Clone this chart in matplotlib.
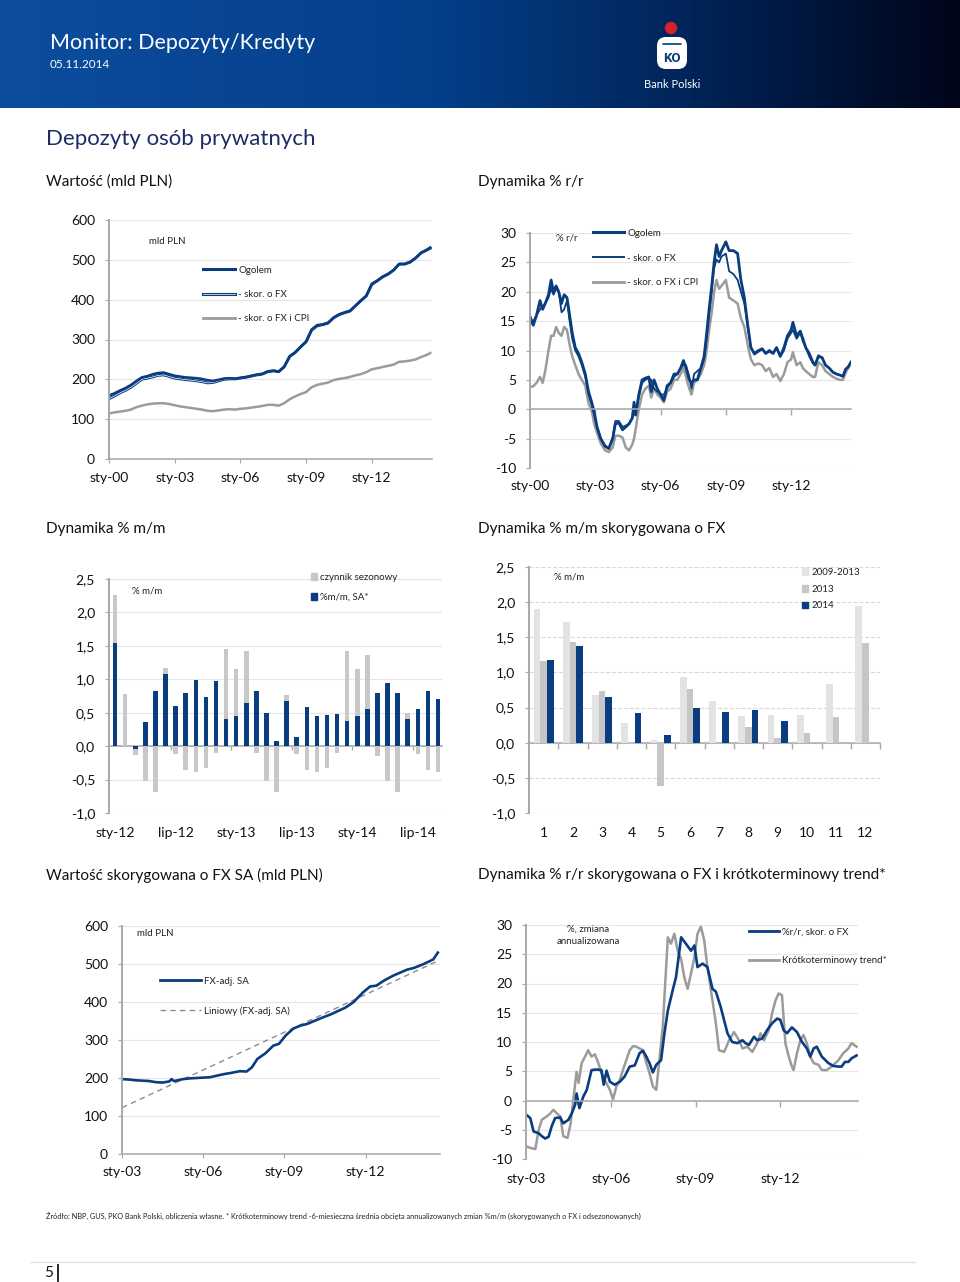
import numpy as np
import matplotlib
matplotlib.use('Agg')
import matplotlib.pyplot as plt
from matplotlib.patches import Circle, FancyBboxPatch, Patch
from matplotlib.lines import Line2D
from matplotlib.colors import LinearSegmentedColormap
from matplotlib.legend_handler import HandlerTuple

plt.rcParams['font.family'] = ['Lato', 'DejaVu Sans']
plt.rcParams['axes.unicode_minus'] = False

# ---------------- DATA ----------------
# Chart 1: Wartość (mld PLN), quarterly readings
t1 = [2000.00, 2000.25, 2000.50, 2000.75, 2001.00, 2001.25, 2001.50, 2001.75, 2002.00, 2002.25,
      2002.50, 2002.75, 2003.00, 2003.25, 2003.50, 2003.75, 2004.00, 2004.25, 2004.50, 2004.75,
      2005.00, 2005.25, 2005.50, 2005.75, 2006.00, 2006.25, 2006.50, 2006.75, 2007.00, 2007.25,
      2007.50, 2007.75, 2008.00, 2008.25, 2008.50, 2008.75, 2009.00, 2009.25, 2009.50, 2009.75,
      2010.00, 2010.25, 2010.50, 2010.75, 2011.00, 2011.25, 2011.50, 2011.75, 2012.00, 2012.25,
      2012.50, 2012.75, 2013.00, 2013.25, 2013.50, 2013.75, 2014.00, 2014.25, 2014.50, 2014.67]
ogolem1 = [159, 165, 172, 178, 186, 196, 205, 208, 213, 216,
           217, 213, 209, 207, 205, 204, 203, 201, 198, 196,
           199, 202, 203, 202, 204, 206, 209, 212, 214, 220,
           222, 220, 232, 258, 268, 282, 295, 325, 336, 338,
           342, 355, 363, 368, 372, 385, 398, 410, 440, 448,
           458, 465, 475, 490, 490, 495, 505, 518, 525, 531]
skorfx1 = [151, 158, 166, 172, 180, 190, 200, 203, 206, 210,
           211, 207, 203, 201, 199, 198, 196, 194, 191, 192,
           196, 200, 201, 201, 203, 205, 208, 211, 213, 219,
           221, 219, 231, 257, 267, 281, 294, 323, 334, 337,
           341, 354, 362, 367, 371, 384, 397, 409, 438, 447,
           457, 464, 474, 489, 489, 494, 504, 517, 524, 529]
skorcpi1 = [114, 117, 119, 121, 124, 130, 134, 137, 139, 140,
            140, 138, 135, 132, 130, 128, 126, 124, 121, 120,
            122, 124, 125, 124, 126, 127, 129, 131, 133, 136,
            136, 134, 140, 150, 157, 163, 168, 180, 186, 189,
            192, 198, 201, 203, 206, 210, 213, 218, 225, 228,
            231, 234, 237, 244, 245, 247, 250, 256, 261, 266]

# Chart 2: Dynamika % r/r
t2 = [2000.00, 2000.15, 2000.30, 2000.46, 2000.58, 2000.70, 2000.85, 2000.97, 2001.08, 2001.20,
      2001.32, 2001.45, 2001.57, 2001.70, 2001.82, 2001.94, 2002.08, 2002.23, 2002.38, 2002.54,
      2002.69, 2002.85, 2002.95, 2003.08, 2003.25, 2003.45, 2003.62, 2003.80, 2003.92, 2004.08,
      2004.25, 2004.40, 2004.55, 2004.70, 2004.78, 2004.85, 2005.00, 2005.15, 2005.30, 2005.46,
      2005.57, 2005.70, 2005.85, 2006.00, 2006.15, 2006.30, 2006.46, 2006.62, 2006.77, 2006.92,
      2007.05, 2007.17, 2007.32, 2007.42, 2007.54, 2007.69, 2007.85, 2008.00, 2008.12, 2008.23,
      2008.35, 2008.46, 2008.57, 2008.69, 2008.80, 2009.00, 2009.15, 2009.35, 2009.54, 2009.69,
      2009.85, 2010.00, 2010.15, 2010.31, 2010.50, 2010.67, 2010.83, 2011.00, 2011.17, 2011.33,
      2011.50, 2011.67, 2011.83, 2012.00, 2012.08, 2012.25, 2012.42, 2012.54, 2012.67, 2012.83,
      2013.00, 2013.10, 2013.25, 2013.42, 2013.58, 2013.75, 2013.92, 2014.08, 2014.25, 2014.38,
      2014.50, 2014.62, 2014.75]
ogolem2 = [15.8, 14.3, 16.0, 18.5, 17.0, 18.0, 19.5, 22.0, 20.0, 21.0,
           20.0, 18.0, 19.5, 19.0, 16.0, 13.0, 10.5, 9.5, 8.0, 6.0,
           3.0, 1.0, -0.5, -3.0, -5.0, -6.3, -6.7, -5.0, -2.5, -2.3,
           -3.5, -3.0, -2.5, -1.5, 1.2, -1.0, 2.5, 5.0, 5.3, 5.5,
           3.0, 5.0, 3.5, 2.5, 1.5, 4.0, 4.5, 6.0, 6.0, 7.0,
           8.3, 7.0, 5.0, 4.5, 5.0, 5.0, 7.0, 9.0, 13.0, 17.0,
           21.0, 25.0, 28.0, 26.0, 27.0, 28.5, 27.0, 27.0, 26.5, 22.0,
           19.0, 14.5, 10.5, 9.5, 10.0, 10.3, 9.5, 10.0, 9.5, 10.5,
           9.0, 10.5, 12.5, 13.5, 14.8, 12.5, 13.3, 12.0, 10.5, 9.5,
           8.0, 7.5, 9.0, 8.8, 7.5, 7.0, 6.3, 6.0, 5.8, 5.6,
           6.8, 7.2, 8.0]
skorfx2 = [14.5, 15.0, 16.0, 17.0, 17.5, 18.0, 19.0, 20.5, 19.5, 20.5,
           20.0, 16.5, 17.0, 18.5, 15.0, 12.0, 10.0, 9.0, 7.5, 5.5,
           2.5, 0.5, -1.0, -3.0, -5.0, -6.2, -6.6, -4.8, -2.0, -2.0,
           -3.0, -2.8, -2.5, -1.5, -0.5, -1.0, 2.0, 4.5, 5.0, 5.3,
           5.0, 3.5, 3.0, 2.5, 2.5, 3.5, 4.5, 5.5, 6.0, 7.0,
           7.5, 7.5, 5.5, 3.5, 6.0, 6.5, 7.0, 8.5, 12.0, 16.0,
           20.0, 24.0, 25.5, 25.0, 26.0, 26.5, 23.5, 23.0, 22.0, 20.0,
           18.0, 14.0, 10.5, 9.3, 9.8, 10.2, 9.5, 9.8, 9.5, 10.5,
           9.0, 10.0, 12.0, 13.0, 13.5, 12.0, 13.0, 11.5, 10.5, 9.0,
           7.8, 7.5, 9.2, 8.8, 7.5, 7.0, 6.3, 6.0, 5.8, 5.6,
           6.8, 7.2, 8.0]
skorcpi2 = [3.8, 3.9, 4.5, 5.5, 4.5, 6.5, 10.0, 12.5, 12.5, 14.0,
            13.0, 12.5, 14.0, 13.5, 11.0, 9.0, 7.5, 6.0, 5.0, 4.0,
            1.0, -0.5, -2.5, -4.0, -5.8, -7.0, -7.3, -6.5, -4.5, -4.5,
            -4.8, -6.5, -7.0, -6.0, -5.0, -3.5, 0.0, 2.5, 3.5, 4.0,
            2.0, 3.5, 2.5, 2.0, 1.2, 3.0, 3.5, 5.0, 5.0, 6.0,
            7.0, 5.5, 3.5, 2.5, 4.5, 5.0, 6.0, 7.5, 10.0, 13.5,
            16.5, 20.0, 22.0, 20.5, 21.0, 22.0, 19.0, 18.5, 18.0, 15.5,
            14.0, 11.0, 8.5, 7.5, 7.8, 7.5, 6.5, 7.0, 5.5, 6.0,
            4.8, 6.0, 8.0, 8.5, 9.7, 7.5, 8.0, 7.0, 6.5, 6.0,
            5.5, 5.5, 8.0, 7.5, 6.5, 6.0, 5.5, 5.2, 5.0, 5.0,
            6.2, 7.0, 8.1]

# Chart 3: Dynamika % m/m (sty-12 .. wrz-14)
mm_sa = [1.55, 0.00, -0.04, 0.36, 0.82, 1.08, 0.60, 0.80, 0.99, 0.73, 0.97, 0.41,
         0.45, 0.65, 0.83, 0.50, 0.07, 0.67, 0.14, 0.58, 0.45, 0.46, 0.48, 0.38,
         0.45, 0.55, 0.80, 0.95, 0.80, 0.41, 0.56, 0.82, 0.70]
mm_seasonal = [0.71, 0.78, -0.09, -0.52, -0.69, 0.09, -0.12, -0.35, -0.39, -0.32, -0.10, 1.04,
               0.71, 0.77, -0.10, -0.52, -0.69, 0.09, -0.12, -0.35, -0.39, -0.32, -0.10, 1.04,
               0.71, 0.82, -0.15, -0.52, -0.69, 0.09, -0.12, -0.35, -0.39]
mm_ticklabels = ['sty-12', 'lip-12', 'sty-13', 'lip-13', 'sty-14', 'lip-14']

# Chart 4: Dynamika % m/m skorygowana o FX
months = ['1', '2', '3', '4', '5', '6', '7', '8', '9', '10', '11', '12']
avg_2009_2013 = [1.90, 1.72, 0.68, 0.28, 0.04, 0.94, 0.59, 0.38, 0.40, 0.40, 0.83, 1.95]
y2013 = [1.16, 1.43, 0.73, -0.02, -0.61, 0.76, 0.00, 0.22, 0.06, 0.14, 0.37, 1.42]
y2014 = [1.17, 1.38, 0.65, 0.42, 0.11, 0.50, 0.43, 0.47, 0.31]

# Chart 5: Wartość skorygowana o FX SA
t5 = [2003.00, 2003.25, 2003.50, 2003.75, 2004.00, 2004.25, 2004.50, 2004.75, 2004.83, 2004.92,
      2005.00, 2005.25, 2005.50, 2005.75, 2006.00, 2006.25, 2006.50, 2006.75, 2007.00, 2007.36,
      2007.60, 2007.80, 2008.00, 2008.30, 2008.59, 2008.80, 2009.05, 2009.33, 2009.60, 2009.83,
      2010.10, 2010.44, 2010.70, 2010.94, 2011.25, 2011.56, 2011.90, 2012.17, 2012.40, 2012.67,
      2013.04, 2013.30, 2013.53, 2013.80, 2014.15, 2014.50, 2014.67]
fxsa5 = [197, 196, 194, 193, 192, 189, 188, 191, 197, 192,
         193, 197, 199, 200, 201, 202, 206, 210, 213, 218,
         217, 228, 250, 265, 285, 290, 312, 330, 338, 342,
         350, 360, 367, 375, 385, 400, 425, 441, 443, 456,
         470, 478, 485, 490, 500, 512, 530]
trend_t5 = [2003.00, 2014.67]
trend_v5 = [122, 508]

# Chart 6: % r/r skorygowana o FX i krótkoterminowy trend
t6b = [2003.00, 2003.15, 2003.27, 2003.45, 2003.56, 2003.68, 2003.80, 2003.91, 2004.03, 2004.21,
       2004.32, 2004.50, 2004.62, 2004.74, 2004.79, 2004.89, 2005.03, 2005.15, 2005.32, 2005.50,
       2005.67, 2005.75, 2005.85, 2005.97, 2006.14, 2006.32, 2006.49, 2006.67, 2006.85, 2007.02,
       2007.14, 2007.26, 2007.37, 2007.49, 2007.61, 2007.78, 2007.90, 2008.02, 2008.19, 2008.31,
       2008.49, 2008.66, 2008.84, 2008.96, 2009.07, 2009.25, 2009.42, 2009.60, 2009.72, 2009.89,
       2010.13, 2010.30, 2010.48, 2010.66, 2010.77, 2010.89, 2011.07, 2011.18, 2011.36, 2011.53,
       2011.71, 2011.89, 2012.00, 2012.12, 2012.24, 2012.41, 2012.59, 2012.77, 2012.94, 2013.06,
       2013.18, 2013.29, 2013.47, 2013.70, 2013.88, 2014.06, 2014.17, 2014.29, 2014.41, 2014.52,
       2014.70]
rr_fx6 = [-2.4, -3.0, -5.3, -5.6, -6.1, -6.5, -6.2, -4.4, -3.0, -2.9,
          -3.9, -3.3, -2.2, -0.7, 1.2, -1.3, 0.7, 1.8, 5.2, 5.3,
          5.2, 2.7, 5.1, 3.2, 2.7, 3.2, 4.1, 5.8, 6.0, 8.1,
          8.5, 7.5, 6.4, 4.8, 6.1, 6.9, 11.5, 15.4, 18.8, 21.1,
          27.9, 26.8, 25.6, 26.5, 22.8, 23.4, 22.8, 19.1, 18.6, 16.0,
          11.5, 10.0, 9.8, 10.3, 9.8, 9.5, 10.9, 10.3, 10.6, 12.0,
          13.2, 14.0, 13.8, 12.0, 11.5, 12.5, 11.7, 10.0, 8.9, 7.5,
          8.9, 9.2, 7.5, 6.4, 5.9, 5.8, 5.8, 6.6, 6.6, 7.2,
          7.7]
t6g = [2003.00, 2003.15, 2003.33, 2003.45, 2003.56, 2003.74, 2003.86, 2003.97, 2004.09, 2004.21,
       2004.32, 2004.47, 2004.58, 2004.70, 2004.79, 2004.86, 2004.97, 2005.09, 2005.20, 2005.32,
       2005.44, 2005.56, 2005.67, 2005.79, 2005.97, 2006.08, 2006.20, 2006.32, 2006.43, 2006.55,
       2006.67, 2006.79, 2006.90, 2007.02, 2007.14, 2007.26, 2007.37, 2007.49, 2007.61, 2007.72,
       2007.84, 2007.96, 2008.02, 2008.13, 2008.25, 2008.37, 2008.49, 2008.60, 2008.72, 2008.84,
       2008.96, 2009.07, 2009.19, 2009.31, 2009.42, 2009.60, 2009.72, 2009.83, 2010.01, 2010.19,
       2010.36, 2010.54, 2010.66, 2010.83, 2011.01, 2011.18, 2011.30, 2011.42, 2011.59, 2011.71,
       2011.83, 2011.94, 2012.06, 2012.18, 2012.30, 2012.41, 2012.47, 2012.59, 2012.71, 2012.82,
       2012.94, 2013.06, 2013.18, 2013.35, 2013.47, 2013.64, 2013.82, 2014.06, 2014.23, 2014.41,
       2014.52, 2014.70]
trend6 = [-7.8, -8.1, -8.3, -5.0, -3.3, -2.7, -2.2, -1.6, -2.2, -2.7,
          -6.1, -6.4, -3.9, 1.2, 4.9, 3.0, 6.4, 7.5, 8.6, 7.5,
          7.9, 6.4, 4.7, 3.5, 1.8, 0.2, 2.4, 3.5, 5.2, 6.9,
          8.6, 9.3, 9.2, 8.9, 8.6, 6.4, 4.7, 2.4, 1.8, 6.9,
          12.6, 22.8, 27.9, 26.8, 28.5, 25.6, 24.2, 21.1, 19.1, 21.7,
          24.5, 28.5, 29.7, 27.3, 22.8, 17.1, 13.2, 8.6, 8.3, 10.3,
          11.7, 10.3, 8.9, 9.2, 8.3, 9.8, 11.5, 10.3, 12.0, 14.9,
          17.1, 18.3, 18.0, 9.8, 7.5, 5.8, 5.2, 8.1, 10.3, 11.2,
          9.8, 7.5, 6.4, 6.1, 5.2, 5.2, 5.8, 6.9, 8.1, 8.9,
          9.8, 9.2]

year_ticks_00 = [2000, 2003, 2006, 2009, 2012]
year_labels_00 = ['sty-00', 'sty-03', 'sty-06', 'sty-09', 'sty-12']
year_ticks_03 = [2003, 2006, 2009, 2012]
year_labels_03 = ['sty-03', 'sty-06', 'sty-09', 'sty-12']

# ---------------- STYLE ----------------
NAVY = '#0a3c80'
GREY_LINE = '#9b9b9b'
SPINE = '#a8a8a8'
GRID = '#e6e6e6'

W, H = 960, 1282
fig = plt.figure(figsize=(W / 100, H / 100), dpi=100)


def ax_px(l, t, r, b):
    return fig.add_axes([l / W, 1 - b / H, (r - l) / W, (b - t) / H])


def ftext(x, y, s, **kw):
    kw.setdefault('va', 'center')
    return fig.text(x / W, 1 - y / H, s, **kw)


def base_style(ax, dashed=False):
    for s in ['top', 'right']:
        ax.spines[s].set_visible(False)
    ax.spines['left'].set_color(SPINE)
    ax.spines['left'].set_linewidth(1.4)
    ax.spines['bottom'].set_color(SPINE)
    ax.spines['bottom'].set_linewidth(1.1)
    ax.yaxis.grid(True, color=GRID if not dashed else '#d9d9d9', lw=0.8,
                  ls='--' if dashed else '-')
    ax.set_axisbelow(True)
    ax.tick_params(axis='y', length=3, color=SPINE, labelsize=10, pad=7, labelcolor='#111111')
    ax.tick_params(axis='x', color=SPINE, labelsize=10, labelcolor='#111111')
    ax.set_facecolor('none')


def zero_axis(ax, tick_pos, label_pos, labels, tick_len=4, pad=9):
    ax.spines['bottom'].set_position(('data', 0))
    ax.set_xticks(tick_pos)
    ax.tick_params(axis='x', length=tick_len, direction='out', labelbottom=False, width=1)
    sec = ax.secondary_xaxis('bottom')
    sec.set_xticks(label_pos)
    sec.set_xticklabels(labels)
    sec.tick_params(length=0, pad=pad, labelsize=10, labelcolor='#111111')
    for sp in sec.spines.values():
        sp.set_visible(False)


def legend_px(ax, handles, labels, x, y_first, pitch, hl_px, fs=7, hmap=None, handleheight=0.7):
    fs_px = fs * 100 / 72
    row_h = 0.89 * fs_px
    ls = (pitch - row_h) / fs_px
    leg = ax.legend(handles, labels, loc='upper left',
                    bbox_to_anchor=(x / W, 1 - (y_first - row_h / 2) / H),
                    bbox_transform=fig.transFigure, frameon=False, fontsize=fs,
                    handlelength=hl_px / fs_px, handletextpad=0.35, labelspacing=ls,
                    borderpad=0, borderaxespad=0, handler_map=hmap, handleheight=handleheight)
    for t in leg.get_texts():
        t.set_color('#222222')
    return leg


def fmt_comma(v):
    return ('%.1f' % v).replace('.', ',')


# ---------------- HEADER ----------------
hax = fig.add_axes([0, 1 - 108 / H, 1, 108 / H])
hax.set_axis_off()
cmap = LinearSegmentedColormap.from_list('hdr', [(0, '#0c4d9e'), (0.45, '#043f8a'),
                                                 (0.72, '#012459'), (1, '#00051a')])
hax.imshow(np.linspace(0, 1, 600).reshape(1, -1), aspect='auto', cmap=cmap,
           extent=(0, 960, 108, 0))
hax.set_xlim(0, 960)
hax.set_ylim(108, 0)
hax.add_patch(Circle((671, 28), 5.5, color='#d3232a'))
hax.add_patch(FancyBboxPatch((657, 37), 30, 32, boxstyle='round,pad=0,rounding_size=9',
                             fc='white', ec='none'))
hax.plot([663, 681], [44, 44], color='#0a3c80', lw=1.2, solid_capstyle='round')
hax.text(672, 58, 'KO', color='#0a3c80', fontsize=9.5, fontweight='bold',
         ha='center', va='center', family=['Roboto', 'DejaVu Sans'])
hax.text(672, 85, 'Bank Polski', color='white', fontsize=8, ha='center', va='center')
ftext(50, 43, 'Monitor: Depozyty/Kredyty', color='white', fontsize=15.5)
ftext(50, 64, '05.11.2014', color='white', fontsize=8.5)

# Titles
ftext(46, 139, 'Depozyty osób prywatnych', color='#1e2c66', fontsize=16)
ftext(46, 182, 'Wartość (mld PLN)', fontsize=11, color='#111111')
ftext(478, 182, 'Dynamika % r/r', fontsize=11, color='#111111')
ftext(46, 529, 'Dynamika % m/m', fontsize=11, color='#111111')
ftext(478, 529, 'Dynamika % m/m skorygowana o FX', fontsize=11, color='#111111')
ftext(46, 875, 'Wartość skorygowana o FX SA (mld PLN)', fontsize=11, color='#111111')
ftext(478, 875, 'Dynamika % r/r skorygowana o FX i krótkoterminowy trend*', fontsize=11,
      color='#111111')

# ---------------- CHART 1 ----------------
ax1 = ax_px(109, 220, 432, 459)
base_style(ax1)
ax1.plot(t1, skorcpi1, color=GREY_LINE, lw=1.8)
ax1.plot(t1, skorfx1, color=NAVY, lw=2.0)
ax1.plot(t1, skorfx1, color='white', lw=0.5)
ax1.plot(t1, ogolem1, color=NAVY, lw=1.8)
ax1.set_xlim(2000.0, 2014.75)
ax1.set_ylim(0, 600)
ax1.set_yticks(range(0, 601, 100))
ax1.set_xticks(year_ticks_00)
ax1.set_xticklabels(year_labels_00)
ax1.tick_params(axis='x', length=3, pad=6)
h_og = Line2D([], [], color=NAVY, lw=2.2)
h_fx = (Line2D([], [], color=NAVY, lw=2.2), Line2D([], [], color='white', lw=0.5))
h_cpi = Line2D([], [], color=GREY_LINE, lw=2.0)
legend_px(ax1, [h_og, h_fx, h_cpi], ['Ogolem', '- skor. o FX', '- skor. o FX i CPI'],
          203, 270, 24, 32, hmap={tuple: HandlerTuple(ndivide=1, pad=0)})
ftext(149, 241, 'mld PLN', fontsize=7, color='#222222')

# ---------------- CHART 2 ----------------
ax2 = ax_px(530, 233, 851, 468)
base_style(ax2)
ax2.plot(t2, skorcpi2, color=GREY_LINE, lw=1.8)
ax2.plot(t2, skorfx2, color=NAVY, lw=1.3)
ax2.plot(t2, ogolem2, color=NAVY, lw=2.0)
ax2.set_xlim(2000.0, 2014.75)
ax2.set_ylim(-10, 30)
ax2.set_yticks(range(-10, 31, 5))
zero_axis(ax2, year_ticks_00[1:], year_ticks_00, year_labels_00, pad=9)
legend_px(ax2, [Line2D([], [], color=NAVY, lw=2.2), Line2D([], [], color=NAVY, lw=1.4),
                Line2D([], [], color=GREY_LINE, lw=2.0)],
          ['Ogolem', '- skor. o FX', '- skor. o FX i CPI'], 593, 233, 24.5, 31)
ftext(556, 238, '% r/r', fontsize=7, color='#222222')

# ---------------- CHART 3 ----------------
ax3 = ax_px(109, 579, 442, 813)
base_style(ax3)
idx = np.arange(len(mm_sa))
sa = np.array(mm_sa)
se = np.array(mm_seasonal)
grey_bottom = np.where(se >= 0, np.maximum(sa, 0), np.minimum(sa, 0))
ax3.bar(idx, sa, width=0.45, color=NAVY, zorder=3)
ax3.bar(idx, se, bottom=grey_bottom, width=0.45, color='#c8c8c8', zorder=3)
ax3.set_xlim(-0.6, 32.4)
ax3.set_ylim(-1.0, 2.5)
yt = np.arange(-1.0, 2.51, 0.5)
ax3.set_yticks(yt)
ax3.set_yticklabels([fmt_comma(v) for v in yt])
zero_axis(ax3, [5.5, 11.5, 17.5, 23.5, 29.5], [0, 6, 12, 18, 24, 30], mm_ticklabels,
          tick_len=3, pad=10)
legend_px(ax3, [Patch(color='#c8c8c8'), Patch(color=NAVY)], ['czynnik sezonowy', '%m/m, SA*'],
          311, 577, 20, 6, fs=7)
ftext(132, 591, '% m/m', fontsize=7, color='#222222')

# ---------------- CHART 4 ----------------
ax4 = ax_px(529, 567, 880, 813)
base_style(ax4, dashed=True)
mx = np.arange(12)
bw = 0.23
ax4.bar(mx - bw, avg_2009_2013, width=bw, color='#e3e3e3', zorder=3)
ax4.bar(mx, y2013, width=bw, color='#c6c6c6', zorder=3)
ax4.bar(mx[:len(y2014)] + bw, y2014, width=bw, color=NAVY, zorder=3)
ax4.set_xlim(-0.5, 11.5)
ax4.set_ylim(-1.0, 2.5)
ax4.set_yticks(yt)
ax4.set_yticklabels([fmt_comma(v) for v in yt])
zero_axis(ax4, np.arange(0.5, 11.6, 1.0), mx, months, tick_len=4, pad=10)
legend_px(ax4, [Patch(color='#e3e3e3'), Patch(color='#c6c6c6'), Patch(color=NAVY)],
          ['2009-2013', '2013', '2014'], 802, 572, 16.5, 6, fs=7)
ftext(554, 577, '% m/m', fontsize=7, color='#222222')

# ---------------- CHART 5 ----------------
ax5 = ax_px(122, 926, 440, 1154)
base_style(ax5)
ax5.plot(trend_t5, trend_v5, color='#8c8c8c', lw=1.0, ls=(0, (4, 3)))
ax5.plot(t5, fxsa5, color=NAVY, lw=1.9)
ax5.set_xlim(2003.0, 2014.75)
ax5.set_ylim(0, 600)
ax5.set_yticks(range(0, 601, 100))
ax5.set_xticks(year_ticks_03)
ax5.set_xticklabels(year_labels_03)
ax5.tick_params(axis='x', length=3, pad=6)
legend_px(ax5, [Line2D([], [], color=NAVY, lw=2.0),
                Line2D([], [], color='#8c8c8c', lw=1.0, ls=(0, (4, 3)))],
          ['FX-adj. SA', 'Liniowy (FX-adj. SA)'], 160, 981, 29, 41)
ftext(137, 934, 'mld PLN', fontsize=7, color='#222222')

# ---------------- CHART 6 ----------------
ax6 = ax_px(526, 925, 858, 1159)
base_style(ax6)
ax6.plot(t6g, trend6, color=GREY_LINE, lw=1.8)
ax6.plot(t6b, rr_fx6, color=NAVY, lw=1.9)
ax6.set_xlim(2003.0, 2014.75)
ax6.set_ylim(-10, 30)
ax6.set_yticks(range(-10, 31, 5))
zero_axis(ax6, year_ticks_03[1:], year_ticks_03, year_labels_03, pad=10)
legend_px(ax6, [Line2D([], [], color=NAVY, lw=2.0), Line2D([], [], color=GREY_LINE, lw=2.0)],
          ['%r/r, skor. o FX', 'Krótkoterminowy trend*'], 749, 932, 28, 30)
ftext(588, 929, '%, zmiana', fontsize=7, color='#222222', ha='center')
ftext(588, 941, 'annualizowana', fontsize=7, color='#222222', ha='center')

# ---------------- FOOTER ----------------
ftext(46, 1216, 'Źródło: NBP, GUS, PKO Bank Polski, obliczenia własne. * Krótkoterminowy trend '
      '-6-miesieczna średnia obcięta annualizowanych zmian %m/m (skorygowanych o FX i '
      'odsezonowanych)', fontsize=5.3, color='#222222')
fig.add_artist(Line2D([30 / W, 915 / W], [1 - 1262 / H] * 2, color='#e2e2e2', lw=1.0))
ftext(44, 1273, '5', fontsize=11, color='#111111')
fig.add_artist(Line2D([58 / W, 58 / W], [1 - 1265 / H, 1 - 1281 / H], color='#111111', lw=1.3))

fig.savefig('out.png', dpi=100)
